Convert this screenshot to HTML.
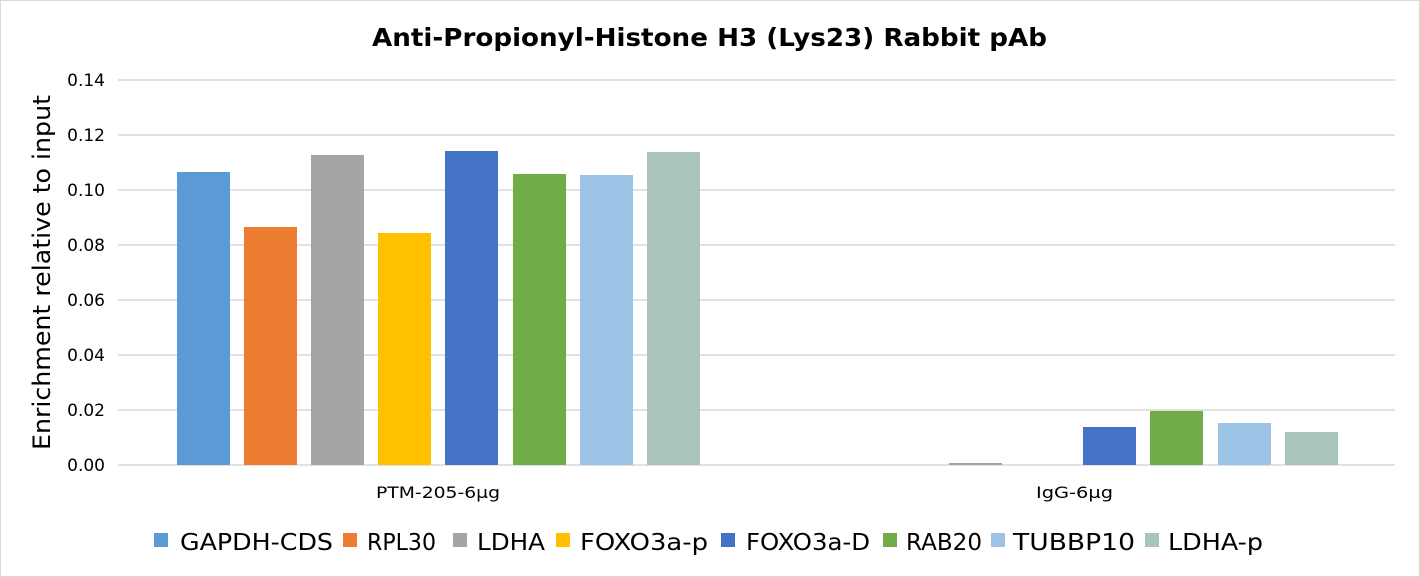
<!DOCTYPE html>
<html><head><meta charset="utf-8"><style>
html,body{margin:0;padding:0;background:#fff}
svg{display:block}
text{font-family:"DejaVu Sans","Liberation Sans",sans-serif;fill:#000}
</style></head><body>
<svg width="1420" height="577" viewBox="0 0 1420 577">
<rect x="0.5" y="0.5" width="1419" height="576" fill="#fff" stroke="#d9d9d9"/>
<text x="372" y="46" font-size="25" font-weight="bold" textLength="675" lengthAdjust="spacingAndGlyphs">Anti-Propionyl-Histone H3 (Lys23) Rabbit pAb</text>
<g stroke="#d9d9d9" stroke-width="1.5">
<line x1="118" x2="1395" y1="80" y2="80"/><line x1="118" x2="1395" y1="135" y2="135"/>
<line x1="118" x2="1395" y1="190" y2="190"/><line x1="118" x2="1395" y1="245" y2="245"/>
<line x1="118" x2="1395" y1="300" y2="300"/><line x1="118" x2="1395" y1="355" y2="355"/>
<line x1="118" x2="1395" y1="410" y2="410"/><line x1="118" x2="1395" y1="465" y2="465"/>
</g>
<g font-size="17" text-anchor="end">
<text x="105" y="86">0.14</text><text x="105" y="141">0.12</text><text x="105" y="196">0.10</text>
<text x="105" y="251">0.08</text><text x="105" y="306">0.06</text><text x="105" y="361">0.04</text>
<text x="105" y="416">0.02</text><text x="105" y="471">0.00</text>
</g>
<text transform="translate(50,450) rotate(-90)" font-size="24" textLength="355" lengthAdjust="spacingAndGlyphs">Enrichment relative to input</text>
<rect x="177" y="172" width="53" height="293" fill="#5b9bd5"/>
<rect x="244" y="227" width="53" height="238" fill="#ed7d31"/>
<rect x="311" y="155" width="53" height="310" fill="#a5a5a5"/>
<rect x="378" y="233" width="53" height="232" fill="#ffc000"/>
<rect x="445" y="151" width="53" height="314" fill="#4472c4"/>
<rect x="513" y="174" width="53" height="291" fill="#70ad47"/>
<rect x="580" y="175" width="53" height="290" fill="#9dc3e6"/>
<rect x="647" y="152" width="53" height="313" fill="#a9c4bd"/>
<rect x="949" y="463" width="53" height="2" fill="#a5a5a5"/>
<rect x="1083" y="427" width="53" height="38" fill="#4472c4"/>
<rect x="1150" y="411" width="53" height="54" fill="#70ad47"/>
<rect x="1218" y="423" width="53" height="42" fill="#9dc3e6"/>
<rect x="1285" y="432" width="53" height="33" fill="#a9c4bd"/>
<text x="376" y="498" font-size="16" textLength="124" lengthAdjust="spacingAndGlyphs">PTM-205-6μg</text>
<text x="1036" y="498" font-size="16" textLength="77" lengthAdjust="spacingAndGlyphs">IgG-6μg</text>
<g font-size="23">
<rect x="154" y="533" width="14" height="14" fill="#5b9bd5"/><text x="180" y="550" textLength="153" lengthAdjust="spacingAndGlyphs">GAPDH-CDS</text>
<rect x="343" y="533" width="14" height="14" fill="#ed7d31"/><text x="367" y="550" textLength="69" lengthAdjust="spacingAndGlyphs">RPL30</text>
<rect x="453" y="533" width="14" height="14" fill="#a5a5a5"/><text x="477" y="550" textLength="68" lengthAdjust="spacingAndGlyphs">LDHA</text>
<rect x="556" y="533" width="14" height="14" fill="#ffc000"/><text x="580" y="550" textLength="128" lengthAdjust="spacingAndGlyphs">FOXO3a-p</text>
<rect x="721" y="533" width="14" height="14" fill="#4472c4"/><text x="746" y="550" textLength="124" lengthAdjust="spacingAndGlyphs">FOXO3a-D</text>
<rect x="883" y="533" width="14" height="14" fill="#70ad47"/><text x="906" y="550" textLength="76" lengthAdjust="spacingAndGlyphs">RAB20</text>
<rect x="991" y="533" width="14" height="14" fill="#9dc3e6"/><text x="1013" y="550" textLength="122" lengthAdjust="spacingAndGlyphs">TUBBP10</text>
<rect x="1145" y="533" width="14" height="14" fill="#a9c4bd"/><text x="1168" y="550" textLength="95" lengthAdjust="spacingAndGlyphs">LDHA-p</text>
</g>
</svg>
</body></html>
